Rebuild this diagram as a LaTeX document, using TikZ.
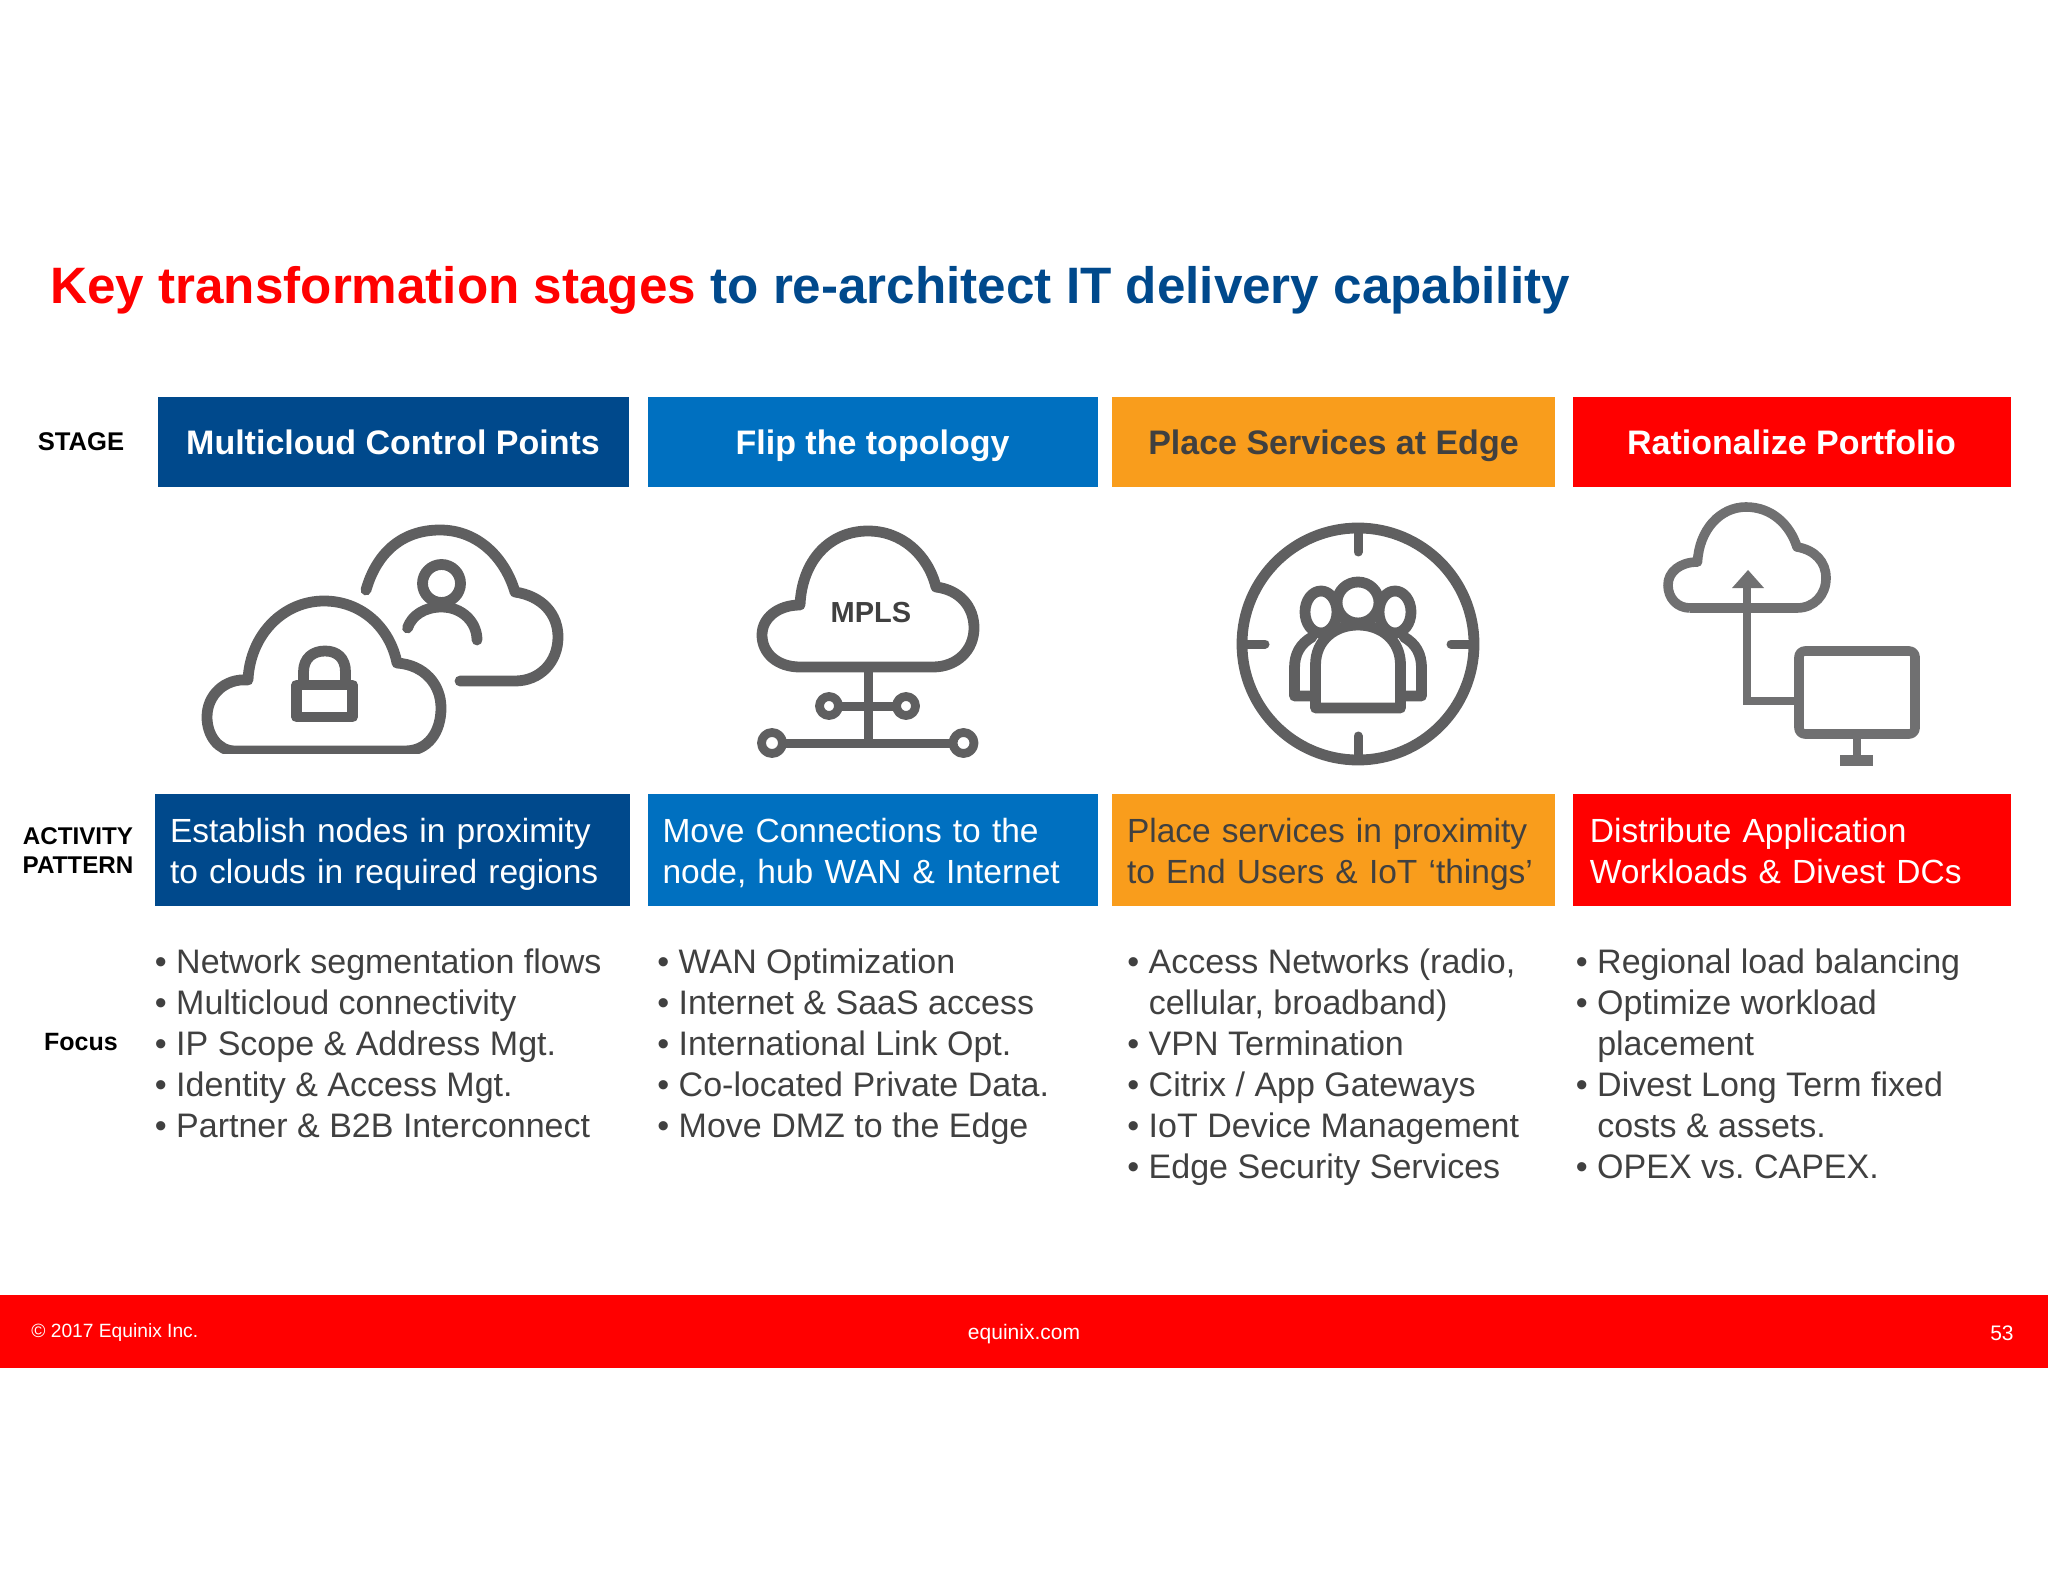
\documentclass[tikz,border=0pt]{standalone}
\usepackage{fontspec}
\setmainfont{Liberation Sans}
\definecolor{eqnavy}{HTML}{00498C}
\definecolor{eqblue}{HTML}{0070C0}
\definecolor{eqorange}{HTML}{F99D1C}
\definecolor{eqred}{HTML}{FF0000}
\definecolor{eqtext}{HTML}{404040}
\definecolor{icongray}{HTML}{5F5F60}
\definecolor{iconlight}{HTML}{707071}
\tikzset{
  stagebox/.style={inner sep=0pt,minimum height=45pt,text height=12.4pt,text depth=0pt,text=white,font=\fontsize{17}{20}\selectfont\bfseries},
  actbox/.style={inner ysep=0pt,inner xsep=7.5pt,minimum height=56pt,text height=14pt,text depth=21.3pt,text=white,align=left,font=\fontsize{16.75}{20.5}\selectfont\frenchspacing},
  sidelabel/.style={inner sep=0pt,align=center,font=\fontsize{12.5}{14.5}\selectfont\bfseries},
  focuslist/.style={inner sep=0pt,anchor=north west,align=left,text=eqtext,font=\fontsize{17}{20.5}\selectfont\frenchspacing},
  footlabel/.style={inner sep=0pt,text=white,font=\fontsize{10.5}{12}\selectfont},
  icon/.style={draw=icongray,line width=5.4pt,line cap=round,line join=round},
  iconb/.style={draw=iconlight,line width=4.8pt,line join=round}
}
\begin{document}
\begin{tikzpicture}[x=0.5pt,y=-0.5pt]
\useasboundingbox (0,0) rectangle (2048,1582);
\node[anchor=base west,inner sep=0pt,font=\fontsize{25.6}{30}\selectfont\bfseries] (title) at (50,304) {\textcolor{eqred}{Key transformation stages} \textcolor{eqnavy}{to re-architect IT delivery capability}};
\node[sidelabel,font=\fontsize{12.8}{15}\selectfont\bfseries] (stagelabel) at (81,442) {STAGE};
\node[sidelabel,font=\fontsize{12.1}{14.5}\selectfont\bfseries] (activitylabel) at (78,851) {ACTIVITY\\PATTERN};
\node[sidelabel] (focuslabel) at (81,1042) {Focus};
\node[stagebox,fill=eqnavy,minimum width=235.5pt] (stagea) at (393,442.5) {Multicloud Control Points};
\node[stagebox,fill=eqblue,minimum width=225pt] (stageb) at (872.5,442) {Flip the topology};
\node[stagebox,fill=eqorange,minimum width=221.5pt,text=eqtext] (stagec) at (1333.5,442) {Place Services at Edge};
\node[stagebox,fill=eqred,minimum width=219pt] (staged) at (1791.5,442) {Rationalize Portfolio};
\node[actbox,fill=eqnavy,text width=222.5pt] (acta) at (392.5,850) {Establish nodes in proximity\\to clouds in required regions};
\node[actbox,fill=eqblue,text width=210pt] (actb) at (872.5,850) {Move Connections to the\\node, hub WAN \& Internet};
\node[actbox,fill=eqorange,text width=206.5pt,text=eqtext] (actc) at (1333.5,850) {Place services in proximity\\to End Users \& IoT ‘things’};
\node[actbox,fill=eqred,text width=204pt] (actd) at (1791.5,850) {\hspace{1.2pt}Distribute Application\\\hspace{1.2pt}Workloads \& Divest DCs};
\node[focuslist] (focusa) at (154.5,948.5) {• Network segmentation flows\\• Multicloud connectivity\\• IP Scope \& Address Mgt.\\• Identity \& Access Mgt.\\• Partner \& B2B Interconnect};
\node[focuslist] (focusb) at (657,948.5) {• WAN Optimization\\• Internet \& SaaS access\\• International Link Opt.\\• Co-located Private Data.\\• Move DMZ to the Edge};
\node[focuslist] (focusc) at (1127,948.5) {• Access Networks (radio,\\\phantom{• }cellular, broadband)\\• VPN Termination\\• Citrix / App Gateways\\• IoT Device Management\\• Edge Security Services};
\node[focuslist] (focusd) at (1575.5,948.5) {• Regional load balancing\\• Optimize workload\\\phantom{• }placement\\• Divest Long Term fixed\\\phantom{• }costs \& assets.\\• OPEX vs. CAPEX.};
\fill[eqred] (0,1295) rectangle (2048,1368);
\node[footlabel,anchor=west,font=\fontsize{9.6}{12}\selectfont] (copyright) at (31,1333) {© 2017 Equinix Inc.};
\node[footlabel] (website) at (1024,1334) {equinix.com};
\node[footlabel,anchor=east] (pagenum) at (2014,1333.5) {53};
% back cloud
\draw[icon] (366,590) .. controls (376,555) and (400,530) .. (440,530) .. controls (478,530) and (505,558) .. (515,592) .. controls (542,596) and (558,614) .. (558,637) .. controls (558,662) and (540,681) .. (515,681) -- (460,681);
\draw[icon] (441.5,583.5) circle (19);
\draw[icon] (407.5,628) .. controls (412,615) and (425,607) .. (441.5,607) .. controls (462,607) and (477,622) .. (477,640);
% front cloud
\begin{scope}
\clip (190,590) rectangle (460,753);
\draw[icon] (235,751) -- (405,751) .. controls (428,751) and (441,732) .. (441,708) .. controls (441,685) and (425,665) .. (397,663) .. controls (390,628) and (362,601) .. (324,601) .. controls (283,601) and (250,635) .. (248,680) .. controls (225,678) and (207,695) .. (207,717) .. controls (207,735) and (218,751) .. (235,751);
\end{scope}
\draw[icon] (303.5,680) -- (303.5,672) .. controls (303.5,658) and (313,651) .. (325,651) .. controls (337,651) and (345.5,658) .. (345.5,672) -- (345.5,680);
\draw[icon] (296.5,685) rectangle (352.5,717);
% mpls cloud
\draw[icon] (800,667) -- (933,667) .. controls (957,667) and (974,650) .. (974,628) .. controls (974,607) and (960,590) .. (936,587) .. controls (928,555) and (902,531) .. (868,531) .. controls (830,531) and (802,560) .. (800,605) .. controls (778,605) and (762,618) .. (762,635) .. controls (762,653) and (777,667) .. (800,667);
\node[inner sep=0pt,text=eqtext,font=\fontsize{14.5}{16}\selectfont\bfseries] (mplslabel) at (871,613) {MPLS};
\draw[icon,line width=4.5pt] (868,667) -- (868,743);
\draw[icon,line width=4.5pt] (829,706) -- (906,706);
\draw[icon,line width=4.5pt] (772,743) -- (963.5,743);
\foreach \cx/\cy/\rr in {829/706/9.5,906/706/9.5,772/743/10.5,963.5/743/10.5}{
  \draw[icon,line width=4.4pt,fill=white] (\cx,\cy) circle (\rr);
}
% target
\draw[icon] (1358,644) circle (116);
\foreach \ax/\ay/\bx/\by in {1358/528/1358/552,1358/760/1358/736,1242/644/1265/644,1474/644/1451/644}{
  \draw[icon,line width=4.5pt] (\ax,\ay) -- (\bx,\by);
}
\draw[icon] (1321,612) ellipse (16 and 21);
\draw[icon] (1395,612) ellipse (16 and 21);
\draw[icon,fill=white] (1358,602.5) ellipse (21 and 20.5);
\draw[icon] (1312,637) .. controls (1300,644) and (1294.5,654) .. (1294.5,668) -- (1294.5,696) -- (1318,696);
\draw[icon] (1404,637) .. controls (1416,644) and (1421.5,654) .. (1421.5,668) -- (1421.5,696) -- (1398,696);
\draw[icon,fill=white] (1315.5,708) -- (1315.5,665) .. controls (1315.5,640) and (1335,625) .. (1358,625) .. controls (1381,625) and (1400.5,640) .. (1400.5,665) -- (1400.5,708) -- cycle;
% cloud and monitor
\draw[iconb] (1690,608) -- (1797,608) .. controls (1814,608) and (1826,595) .. (1826,578) .. controls (1826,562) and (1815,550) .. (1797,547) .. controls (1790,525) and (1772,507) .. (1746,507) .. controls (1720,507) and (1699,530) .. (1697.5,562) .. controls (1680,562) and (1668,572) .. (1668,585) .. controls (1668,598) and (1677,608) .. (1690,608);
\draw[draw=iconlight,line width=4pt] (1747,586) -- (1747,701) -- (1797,701);
\fill[iconlight] (1748,570) -- (1764,588) -- (1732,588) -- cycle;
\draw[iconb,rounded corners=3pt] (1799,651) rectangle (1915,734);
\draw[draw=iconlight,line width=4pt] (1857,739) -- (1857,758);
\fill[iconlight] (1840,755) rectangle (1873,766);
\end{tikzpicture}
\end{document}
